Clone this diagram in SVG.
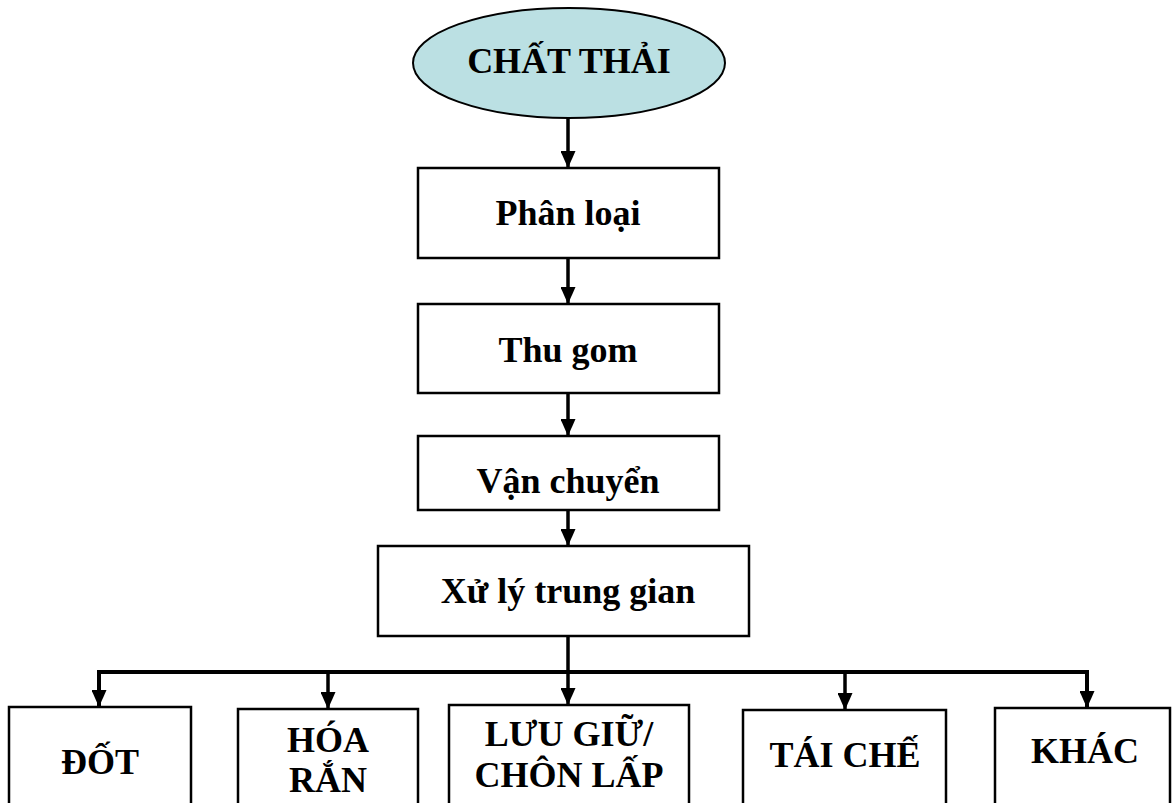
<svg xmlns="http://www.w3.org/2000/svg" width="1174" height="803" viewBox="0 0 1174 803">
<style>
.box{fill:#fff;stroke:#000;stroke-width:2.5}
.ell{fill:#bbe0e3;stroke:#000;stroke-width:2}
.t{font-family:"Liberation Serif","Times New Roman",serif;font-weight:bold;font-size:36px;fill:#000;text-anchor:middle}
.c{fill:none;stroke:#000;stroke-width:3.5}
</style>
<defs>
<marker id="ah" markerUnits="userSpaceOnUse" markerWidth="17" markerHeight="15" viewBox="0 0 17 15" refX="17" refY="7.5" orient="auto">
<path d="M0,0 L17,7.5 L0,15 z" fill="#000"/>
</marker>
</defs>
<rect width="1174" height="803" fill="#fff"/>
<g id="connectors">
<line class="c" x1="568" y1="117" x2="568" y2="168" marker-end="url(#ah)"/>
<line class="c" x1="568" y1="258" x2="568" y2="304" marker-end="url(#ah)"/>
<line class="c" x1="568" y1="393" x2="568" y2="436" marker-end="url(#ah)"/>
<line class="c" x1="568" y1="510" x2="568" y2="546" marker-end="url(#ah)"/>
<line class="c" x1="568" y1="636" x2="568" y2="705" marker-end="url(#ah)"/>
<polyline class="c" points="99,707 99,672 1087,672 1087,708" marker-end="url(#ah)" style="stroke-width:4"/>
<line class="c" x1="328" y1="672" x2="328" y2="709" marker-end="url(#ah)"/>
<line class="c" x1="845" y1="672" x2="845" y2="710" marker-end="url(#ah)"/>
<line class="c" x1="99" y1="672" x2="99" y2="707" marker-end="url(#ah)"/>
</g>
<g id="chat-thai">
<ellipse class="ell" cx="569" cy="63" rx="156" ry="55"/>
<text class="t" x="569" y="73">CHẤT THẢI</text>
</g>
<g id="phan-loai">
<rect class="box" x="418" y="168" width="301" height="90"/>
<text class="t" x="568" y="225">Phân loại</text>
</g>
<g id="thu-gom">
<rect class="box" x="418" y="304" width="301" height="89"/>
<text class="t" x="568" y="362">Thu gom</text>
</g>
<g id="van-chuyen">
<rect class="box" x="418" y="436" width="301" height="74"/>
<text class="t" x="568" y="493">Vận chuyển</text>
</g>
<g id="xu-ly">
<rect class="box" x="378" y="546" width="371" height="90"/>
<text class="t" x="568" y="603">Xử lý trung gian</text>
</g>
<g id="dot">
<rect class="box" x="9" y="707" width="182" height="110"/>
<text class="t" x="100" y="774">ĐỐT</text>
</g>
<g id="hoa-ran">
<rect class="box" x="238" y="709" width="180" height="110"/>
<text class="t" x="328" y="752">HÓA</text>
<text class="t" x="328" y="792">RẮN</text>
</g>
<g id="luu-giu">
<rect class="box" x="449" y="705" width="240" height="110"/>
<text class="t" x="569" y="746">LƯU GIỮ/</text>
<text class="t" x="569" y="787">CHÔN LẤP</text>
</g>
<g id="tai-che">
<rect class="box" x="743" y="710" width="203" height="110"/>
<text class="t" x="845" y="767">TÁI CHẾ</text>
</g>
<g id="khac">
<rect class="box" x="995" y="708" width="175" height="110"/>
<text class="t" x="1085" y="763">KHÁC</text>
</g>
</svg>
